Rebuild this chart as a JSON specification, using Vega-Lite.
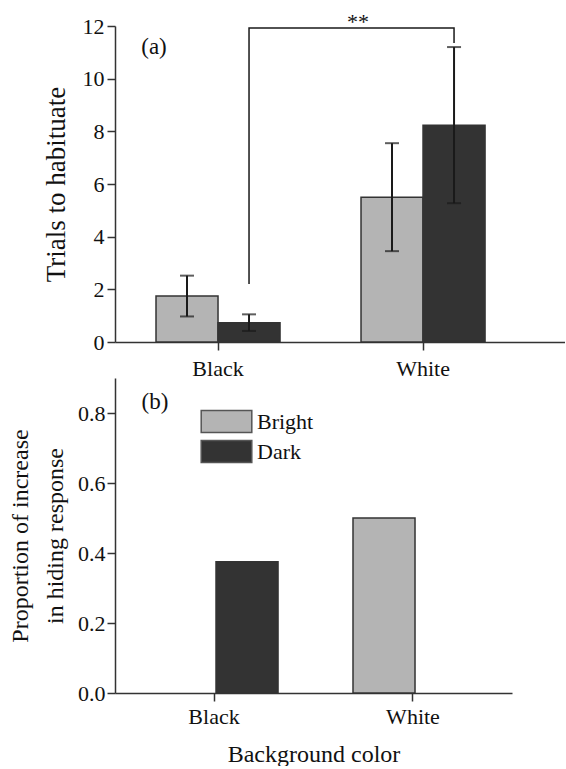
{
  "$schema": "https://vega.github.io/schema/vega-lite/v6.json",
  "padding": {"left": 8, "top": 11, "right": 0, "bottom": 0},
  "bounds": "flush",
  "spacing": 36,
  "background": "white",
  "config": {
    "view": {"stroke": null},
    "font": "Liberation Serif",
    "axis": {
      "labelFont": "Liberation Serif", "labelFontSize": 22, "labelColor": "#111",
      "titleFont": "Liberation Serif", "titleFontSize": 24, "titleFontWeight": "normal", "titleColor": "#111",
      "domainColor": "#333", "domainWidth": 1.5, "tickColor": "#333", "tickWidth": 1.5, "tickSize": 8,
      "grid": false
    },
    "legend": {"labelFont": "Liberation Serif", "labelFontSize": 22, "labelColor": "#111"}
  },
  "resolve": {"scale": {"fill": "independent"}, "legend": {"fill": "independent"}},
  "vconcat": [
    {
      "width": 450,
      "height": 316,
      "layer": [
        {
          "data": {"values": [
            {"bg": "Black", "cond": "Bright", "mean": 1.75, "lo": 0.97, "hi": 2.52},
            {"bg": "Black", "cond": "Dark", "mean": 0.73, "lo": 0.42, "hi": 1.05},
            {"bg": "White", "cond": "Bright", "mean": 5.5, "lo": 3.45, "hi": 7.55},
            {"bg": "White", "cond": "Dark", "mean": 8.23, "lo": 5.27, "hi": 11.2}
          ]},
          "layer": [
            {
              "mark": {"type": "bar", "stroke": "#333", "strokeWidth": 1.5},
              "encoding": {
                "x": {"field": "bg", "type": "nominal", "scale": {"domain": ["Black", "White"], "paddingInner": 0.395, "paddingOuter": 0.295, "align": 0.339},
                      "axis": {"title": null, "labelAngle": 0, "labelPadding": 8}},
                "xOffset": {"field": "cond", "type": "nominal", "scale": {"domain": ["Bright", "Dark"], "paddingInner": 0, "paddingOuter": 0}},
                "y": {"field": "mean", "type": "quantitative", "scale": {"domain": [0, 12], "nice": false},
                      "axis": {"values": [0, 2, 4, 6, 8, 10, 12], "format": "d", "title": "Trials to habituate", "titleFontSize": 27, "labelPadding": 3, "titlePadding": 12}},
                "fill": {"field": "cond", "type": "nominal", "scale": {"domain": ["Bright", "Dark"], "range": ["#b4b4b4", "#333333"]}, "legend": null}
              }
            },
            {
              "mark": {"type": "rule", "color": "#1a1a1a", "strokeWidth": 2},
              "encoding": {
                "x": {"field": "bg", "type": "nominal"},
                "xOffset": {"field": "cond", "type": "nominal"},
                "y": {"field": "lo", "type": "quantitative"},
                "y2": {"field": "hi"}
              }
            },
            {
              "mark": {"type": "tick", "color": "#1a1a1a", "thickness": 2, "size": 14, "orient": "horizontal"},
              "encoding": {
                "x": {"field": "bg", "type": "nominal"},
                "xOffset": {"field": "cond", "type": "nominal"},
                "y": {"field": "lo", "type": "quantitative"}
              }
            },
            {
              "mark": {"type": "tick", "color": "#1a1a1a", "thickness": 2, "size": 14, "orient": "horizontal"},
              "encoding": {
                "x": {"field": "bg", "type": "nominal"},
                "xOffset": {"field": "cond", "type": "nominal"},
                "y": {"field": "hi", "type": "quantitative"}
              }
            }
          ]
        },
        {
          "data": {"values": [
            {"bg": "Black", "cond": "Dark", "y": 2.2, "o": 1},
            {"bg": "Black", "cond": "Dark", "y": 11.92, "o": 2},
            {"bg": "White", "cond": "Dark", "y": 11.92, "o": 3},
            {"bg": "White", "cond": "Dark", "y": 11.35, "o": 4}
          ]},
          "mark": {"type": "line", "color": "#1a1a1a", "strokeWidth": 1.5},
          "encoding": {
            "x": {"field": "bg", "type": "nominal"},
            "xOffset": {"field": "cond", "type": "nominal"},
            "y": {"field": "y", "type": "quantitative"},
            "order": {"field": "o", "type": "quantitative"}
          }
        },
        {
          "data": {"values": [{"label": "**", "bg": "Black", "cond": "Dark", "y": 11.92}]},
          "mark": {"type": "text", "fontSize": 22, "color": "#111", "baseline": "alphabetic", "align": "center", "dx": 109, "dy": 1},
          "encoding": {
            "x": {"field": "bg", "type": "nominal"},
            "xOffset": {"field": "cond", "type": "nominal"},
            "y": {"field": "y", "type": "quantitative"},
            "text": {"field": "label"}
          }
        },
        {
          "data": {"values": [{"label": "(a)", "bg": "Black", "cond": "Bright", "y": 10.94}]},
          "mark": {"type": "text", "fontSize": 23, "color": "#111", "baseline": "alphabetic", "align": "center", "dx": -33},
          "encoding": {
            "x": {"field": "bg", "type": "nominal"},
            "xOffset": {"field": "cond", "type": "nominal"},
            "y": {"field": "y", "type": "quantitative"},
            "text": {"field": "label"}
          }
        }
      ]
    },
    {
      "width": 397,
      "height": 315,
      "layer": [
        {
          "data": {"values": [
            {"bg": "Black", "cond": "Dark", "prop": 0.375},
            {"bg": "White", "cond": "Bright", "prop": 0.5}
          ]},
          "mark": {"type": "bar", "stroke": "#333", "strokeWidth": 1.5},
          "encoding": {
            "x": {"field": "bg", "type": "nominal", "scale": {"domain": ["Black", "White"], "paddingInner": 0.397, "paddingOuter": 0.196, "align": 0.5},
                  "axis": {"title": "Background color", "labelAngle": 0, "labelPadding": 5, "titlePadding": 15}},
            "xOffset": {"field": "cond", "type": "nominal", "scale": {"domain": ["Bright", "Dark"], "paddingInner": 0, "paddingOuter": 0}},
            "y": {"field": "prop", "type": "quantitative", "scale": {"domain": [0, 0.9], "nice": false},
                  "axis": {"values": [0, 0.2, 0.4, 0.6, 0.8], "format": ".1f", "title": ["Proportion of increase", "in hiding response"], "titleLineHeight": 35, "labelPadding": 2, "titlePadding": 10}},
            "fill": {"field": "cond", "type": "nominal", "scale": {"domain": ["Bright", "Dark"], "range": ["#b4b4b4", "#333333"]},
                     "legend": {"title": null, "orient": "none", "legendX": 99, "legendY": 31, "padding": 0,
                                "symbolType": "M-2.2,-0.96H2.2V0.96H-2.2Z", "symbolSize": 529, "symbolStrokeColor": "#555", "symbolStrokeWidth": 1.5,
                                "labelOffset": 18, "rowPadding": 1}}
          }
        },
        {
          "data": {"values": [{"label": "(b)", "bg": "Black", "cond": "Bright", "y": 0.811}]},
          "mark": {"type": "text", "fontSize": 23, "color": "#111", "baseline": "alphabetic", "align": "center", "dx": -30},
          "encoding": {
            "x": {"field": "bg", "type": "nominal"},
            "xOffset": {"field": "cond", "type": "nominal"},
            "y": {"field": "y", "type": "quantitative"},
            "text": {"field": "label"}
          }
        }
      ]
    }
  ]
}
